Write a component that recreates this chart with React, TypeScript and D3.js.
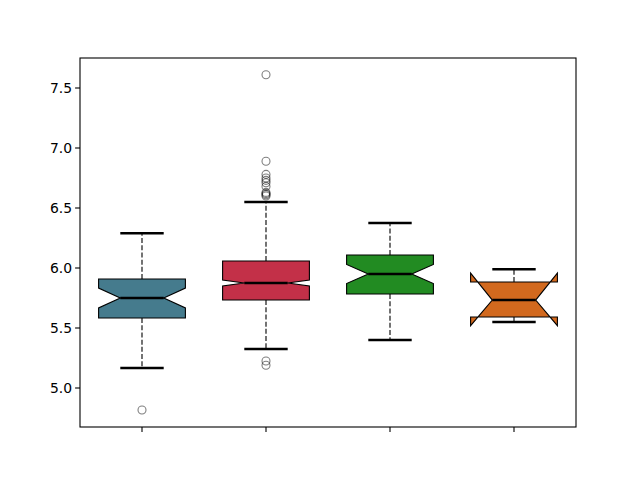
import React from "react";
import * as d3 from "d3";

const positions = [1, 2, 3, 4];
const colors = ["#457B8D", "#C33048", "#228B22", "#D2691E"];
const whiskerLow = [5.167, 5.325, 5.4, 5.55];
const q1s = [5.583, 5.733, 5.783, 5.592];
const medians = [5.75, 5.875, 5.95, 5.733];
const q3s = [5.908, 6.058, 6.108, 5.883];
const whiskerHigh = [6.29, 6.55, 6.375, 5.99];
const notchLow = [5.667, 5.85, 5.87, 5.519];
const notchHigh = [5.833, 5.9, 6.03, 5.958];
const fliers: number[][] = [
  [4.817],
  [7.61, 6.89, 6.78, 6.75, 6.73, 6.71, 6.68, 6.63, 6.62, 6.61, 6.6, 5.225, 5.19],
  [],
  [],
];
const yTicks = [5.0, 5.5, 6.0, 6.5, 7.0, 7.5];

const W = 640, H = 480;
const L = 80, R = 576, T = 58, B = 427;
const boxWidth = 0.7;

export default function App() {
  const x = d3.scaleLinear().domain([0.5, 4.5]).range([L, R]);
  const y = d3.scaleLinear().domain([4.675, 7.75]).range([B, T]);
  const font = "'DejaVu Sans', sans-serif";
  const line = d3.line<[number, number]>().x((d) => x(d[0])).y((d) => y(d[1]));

  return (
    <svg width={W} height={H} style={{ position: "absolute", left: 0, top: 0 }}>
      <rect x={0} y={0} width={W} height={H} fill="#fff" />
      {positions.map((p, i) => {
        const hl = p - boxWidth / 2, hr = p + boxWidth / 2;
        const cl = p - boxWidth / 4, cr = p + boxWidth / 4;
        const pts: [number, number][] = [
          [hl, q1s[i]], [hr, q1s[i]], [hr, notchLow[i]], [cr, medians[i]], [hr, notchHigh[i]],
          [hr, q3s[i]], [hl, q3s[i]], [hl, notchHigh[i]], [cl, medians[i]], [hl, notchLow[i]], [hl, q1s[i]],
        ];
        return (
          <g key={i}>
            <line x1={x(p)} x2={x(p)} y1={y(q1s[i])} y2={y(whiskerLow[i])} stroke="#000" strokeWidth={1.1} strokeDasharray="5,2.2" />
            <line x1={x(p)} x2={x(p)} y1={y(q3s[i])} y2={y(whiskerHigh[i])} stroke="#000" strokeWidth={1.1} strokeDasharray="5,2.2" />
            <line x1={x(cl)} x2={x(cr)} y1={y(whiskerLow[i])} y2={y(whiskerLow[i])} stroke="#000" strokeWidth={2.5} />
            <line x1={x(cl)} x2={x(cr)} y1={y(whiskerHigh[i])} y2={y(whiskerHigh[i])} stroke="#000" strokeWidth={2.5} />
            <path d={line(pts) + "Z"} fill={colors[i]} stroke="#000" strokeWidth={1.1} strokeLinejoin="miter" />
            <line x1={x(cl)} x2={x(cr)} y1={y(medians[i])} y2={y(medians[i])} stroke="#000" strokeWidth={2.5} />
            {fliers[i].map((v, j) => (
              <circle key={j} cx={x(p)} cy={y(v)} r={4} fill="none" stroke="#000" strokeOpacity={0.5} strokeWidth={1.1} />
            ))}
          </g>
        );
      })}
      <rect x={L} y={T} width={R - L} height={B - T} fill="none" stroke="#000" strokeWidth={1.1} />
      {yTicks.map((t) => (
        <g key={t}>
          <line x1={L - 4.9} x2={L} y1={y(t)} y2={y(t)} stroke="#000" strokeWidth={1.1} />
          <text x={L - 8} y={y(t)} dy="0.35em" textAnchor="end" fontFamily={font} fontSize={13.9} fill="#000">
            {t.toFixed(1)}
          </text>
        </g>
      ))}
      {positions.map((p) => (
        <line key={p} x1={x(p)} x2={x(p)} y1={B} y2={B + 4.9} stroke="#000" strokeWidth={1.1} />
      ))}
    </svg>
  );
}
